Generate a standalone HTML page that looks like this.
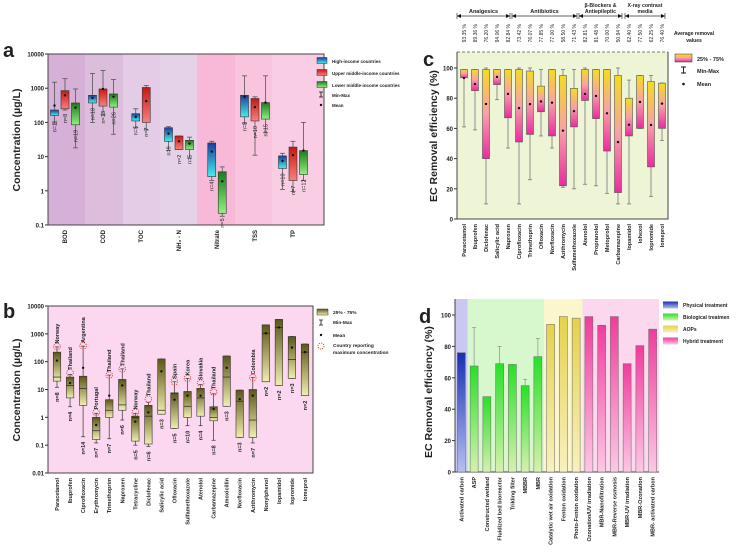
<!DOCTYPE html>
<html><head><meta charset="utf-8"><style>
html,body{margin:0;padding:0;background:#fff;width:743px;height:560px;overflow:hidden}
svg text{font-family:"Liberation Sans",sans-serif;fill:#222}
</style></head><body>
<svg id="fig" width="743" height="560" viewBox="0 0 743 560" xmlns="http://www.w3.org/2000/svg">
<defs>
<linearGradient id="gBlue" x1="0" y1="0" x2="0" y2="1"><stop offset="0" stop-color="#1c3c9c"/><stop offset="1" stop-color="#40f0f0"/></linearGradient>
<linearGradient id="gRed" x1="0" y1="0" x2="0" y2="1"><stop offset="0" stop-color="#c81810"/><stop offset="1" stop-color="#f88080"/></linearGradient>
<linearGradient id="gGreen" x1="0" y1="0" x2="0" y2="1"><stop offset="0" stop-color="#1c7a1c"/><stop offset="1" stop-color="#90f080"/></linearGradient>
<linearGradient id="gOlive" x1="0" y1="0" x2="0" y2="1"><stop offset="0" stop-color="#5c5618"/><stop offset="1" stop-color="#f2eeb0"/></linearGradient>
<linearGradient id="gYM" x1="0" y1="0" x2="0" y2="1"><stop offset="0" stop-color="#f4dc20"/><stop offset="0.5" stop-color="#f8a0a8"/><stop offset="1" stop-color="#ec2aa0"/></linearGradient>
<linearGradient id="gPhys" x1="0" y1="0" x2="0" y2="1"><stop offset="0" stop-color="#1830b0"/><stop offset="1" stop-color="#b8c0f0"/></linearGradient>
<linearGradient id="gBio" x1="0" y1="0" x2="0" y2="1"><stop offset="0" stop-color="#28e028"/><stop offset="1" stop-color="#d8f0b0"/></linearGradient>
<linearGradient id="gAop" x1="0" y1="0" x2="0" y2="1"><stop offset="0" stop-color="#e4d24c"/><stop offset="1" stop-color="#f8f0c0"/></linearGradient>
<linearGradient id="gHyb" x1="0" y1="0" x2="0" y2="1"><stop offset="0" stop-color="#f03c9c"/><stop offset="1" stop-color="#fcc8e4"/></linearGradient>
</defs>
</svg>
<script>
// ---------- Panel a data ----------
const aCats=["BOD","COD","TOC","NH₃ - N","Nitrate","TSS","TP"];
const aSeries=["High-income countries","Upper middle-income countries","Lower middle-income countries"];
// per category: series index present
const aSer=[[0,1,2],[0,1,2],[0,1],[0,1,2],[0,2],[0,1,2],[0,1,2]];
const aQ75=[[230,850,370],[620,950,680],[180,1050],[70,40,30],[25,3.6],[620,500,380],[10.5,19,15]];
const aQ25=[[160,250,85],[370,300,280],[110,100],[28,16,16],[2.6,0.22],[145,110,125],[4.5,2,3]];
const aMin=[[95,230,18],[100,170,45],[70,60],[15,16,9],[2,0.18],[95,11,50],[1.1,0.95,2]];
const aMax=[[1500,1900,950],[2700,3300,1800],[250,1200],[75,40,37],[28,5],[2300,560,2300],[12.5,28,100]];
const aMean=[[310,620,270],[520,950,560],[145,420],[47,28,24],[14,1.9],[560,280,380],[7.5,11,15]];
const aN=[["n=11","n=8","n=19"],["n=18","n=13","n=26"],["n=5","n=7"],["n=9","n=2","n=5"],["n=4","n=5"],["n=8","n=10","n=15"],["n=10","n=7","n=12"]];
const aTicks=[0.1,1,10,100,1000,10000];
// ---------- Panel b data ----------
const bCats=["Paracetamol","Ibuprofen","Ciprofloxacin","Erythromycin","Trimethoprim","Naproxen","Tetracycline","Diclofenac","Salicylic acid","Ofloxacin","Sulfamethoxazole","Atenolol","Carbamazepine","Amoxicillin","Norfloxacin","Azithromycin","Nonylphenol","Iopamidol","Iopromide","Iomeprol"];
const bQ75=[220,28,30,1.0,4.3,23,1.1,2.7,125,7.5,8.5,11,2.4,160,9.5,10,2100,3300,800,430];
const bQ25=[20,5,2.7,0.16,1.0,1.8,0.14,0.11,1.3,0.4,1.0,1.1,0.75,2.5,0.19,0.19,19,14,25,6];
const bMed=[28,14,11,0.33,1.8,2.8,1.0,1.1,1.8,7.5,2.5,5,1.0,28,3.8,0.8,1050,1700,120,220];
const bMin=[12,2.4,0.2,0.12,0.17,0.8,0.1,0.09,1.3,0.4,0.5,0.5,0.15,2.5,0.19,0.12,19,14,25,6];
const bMax=[340,35,360,1.4,33,55,1.4,3.5,125,19,25,15,7,160,9.5,27,2100,3300,800,430];
const bMean=[110,17,60,0.53,6,14,0.7,1.5,45,4.3,6,6,2,60,4.5,6,1050,1700,320,220];
const bN=["n=8","n=4","n=14","n=7","n=7","n=6","n=5","n=6","n=3","n=5","n=10","n=4","n=8","n=3","n=3","n=7","n=2","n=2","n=3","n=2"];
const bCountry=["Norway","Thailand","Argentina","Portugal","Thailand","Thailand","Norway","Thailand","","Spain","Korea","Slovakia","Thailand","","","Colombia","","","",""];
const bCircle=[350,40,370,1.5,33,55,1.5,4.5,0,19,25,17,8,0,0,27,0,0,0,0];
const bTicks=[0.01,0.1,1,10,100,1000,10000];
// ---------- Panel c data ----------
const cCats=["Paracetamol","Ibuprofen","Diclofenac","Salicylic acid","Naproxen","Ciprofloxacin","Trimethoprin","Ofloxacin","Norfloxacin","Azithromycin","Sulfamethoxazole","Atenolol","Propranolol","Metoprolol","Carbamazepine","Iopamidol","Iohexol","Iopromide","Iomeprol"];
const cQ75=[99,99,99,99,99,99,98,88,99,95,86.5,99,99,99,95,80,95,91,90];
const cQ25=[93.5,85,40,89,67,51,56,71,55,22,61,78.5,66.5,45,17.5,55,60,34.5,60];
const cMin=[61,59,10,79,47,10,26,55,47,21,20,23,22,17,10,10,60,15,52];
const cMax=[99,99,100,99,99,100,100,99,99,99,99,100,99,99,100,92,95,95,90];
const cMean=[93.35,89.36,76.2,94.06,82.84,73.42,76.07,77.85,77,58.5,71.43,82.81,81.48,70,50.94,62.4,77.5,62.25,76.4];
const cAvgLabels=["93.35 %","89.36 %","76.20 %","94.06 %","82.84 %","73.42 %","76.07 %","77.85 %","77.00 %","58.50 %","71.43 %","82.81 %","81.48 %","70.00 %","50.94 %","62.40 %","77.50 %","62.25 %","76.40 %"];
const cTicks=[0,20,40,60,80,100];
// ---------- Panel d data ----------
const dCats=["Activated carbon","ASP","Constructed wetland","Fluidized bed bioreactor","Trikling filter","MBBR","MBR","Catalytic wet air oxidation","Fenton oxidation","Photo-Fenton oxidation","Ozonation/UV irradiation","MBR-Nanofiltration","MBR-Reverse osmosis","MBR-UV irradiation","MBR-Ozonation","MBR- activated carbon"];
const dVals=[76,67.5,48,69,68.5,55,73.5,94,99,98,99,93.5,99,69,80.5,91];
const dErr=[0,92,0,80,0,59,85,0,0,0,0,0,0,0,0,0];
const dGroup=[0,1,1,1,1,1,1,2,2,2,3,3,3,3,3,3];
const dTicks=[0,20,40,60,80,100];

const svg=document.getElementById('fig');
const NS="http://www.w3.org/2000/svg";
function mk(tag,attrs,parent){const e=document.createElementNS(NS,tag);for(const k in attrs)e.setAttribute(k,attrs[k]);(parent||svg).appendChild(e);return e;}
function txt(s,attrs,parent){const e=mk('text',attrs,parent);e.textContent=s;return e;}
function g(name){const e=mk('g',{});return e;}

// ====== PANEL A ======
(function(){
const P=g('panel-a');
const L=48,R=324,T=54,B=225;
const y=v=>B-(Math.log10(v)+1)/5*(B-T);
const cx=i=>65+i*38;
const bandCols=["#d6b0d6","#dcbedc","#e4cce6","#e6d2e8","#f8b8d8","#f8c4de","#f9cee4"];
const edges=[L,85,123,160,197,235,272,R];
bandCols.forEach((c,i)=>{const r=mk('rect',{x:edges[i],y:T,width:edges[i+1]-edges[i],height:B-T,fill:c},P);
});
mk('rect',{x:L,y:T,width:R-L,height:B-T,fill:'none',stroke:'#444','stroke-width':1},P);
aTicks.forEach(t=>{mk('line',{x1:L-3,x2:L,y1:y(t),y2:y(t),stroke:'#333'},P);
const e=txt(String(t),{x:L-4,y:y(t)+2.5,'font-size':6,'font-weight':'bold','text-anchor':'end'},P);
});
const grads=['url(#gBlue)','url(#gRed)','url(#gGreen)'];
aCats.forEach((c,i)=>{
 const ser=aSer[i];const ns=ser.length;
 ser.forEach((s,j)=>{
  const x=cx(i)+(j-(ns-1)/2)*10.5;const w=8;
  mk('line',{x1:x,x2:x,y1:y(aMax[i][j]),y2:y(aMin[i][j]),stroke:'#555','stroke-width':0.8},P);
  mk('line',{x1:x-2.5,x2:x+2.5,y1:y(aMax[i][j]),y2:y(aMax[i][j]),stroke:'#555','stroke-width':0.8},P);
  mk('line',{x1:x-2.5,x2:x+2.5,y1:y(aMin[i][j]),y2:y(aMin[i][j]),stroke:'#555','stroke-width':0.8},P);
  const b=mk('rect',{x:x-w/2,y:y(aQ75[i][j]),width:w,height:y(aQ25[i][j])-y(aQ75[i][j]),fill:grads[s],stroke:'#333','stroke-width':0.6},P);
  
  mk('circle',{cx:x,cy:y(aMean[i][j]),r:1.2,fill:'#111'},P);
  const ly=y(aQ25[i][j])+3;
  txt(aN[i][j],{x:x,y:ly,'font-size':5.5,'text-anchor':'end',transform:`rotate(-90 ${x+2} ${ly})`},P);
 });
 const lx=cx(i)+2,ly=B+5;
 const e=txt(c,{x:lx,y:ly,'font-size':6,'font-weight':'bold','text-anchor':'end',transform:`rotate(-90 ${lx} ${ly})`},P);
 
});
const yt=txt('Concentration (µg/L)',{x:20,y:140,'font-size':10.5,'font-weight':'bold','text-anchor':'middle',transform:'rotate(-90 20 140)'},P);

const pl=txt('a',{x:3,y:57,'font-size':20,'font-weight':'bold'},P);

aSeries.forEach((s,k)=>{const ly=61+k*12;
 mk('rect',{x:317,y:ly-3.5,width:10,height:6,fill:grads[k],stroke:'#333','stroke-width':0.5},P);
 const e=txt(s,{x:332,y:ly+2,'font-size':4.5,'font-weight':'bold'},P);
 });
mk('path',{d:'M319 92h4M321 92v5M319 97h4',stroke:'#111','stroke-width':0.8,fill:'none'},P);
txt('Min-Max',{x:332,y:97,'font-size':4.5,'font-weight':'bold'},P);
mk('circle',{cx:321,cy:105,r:1.2,fill:'#111'},P);
txt('Mean',{x:332,y:107,'font-size':4.5,'font-weight':'bold'},P);
})();

// ====== PANEL B ======
(function(){
const P=g('panel-b');
const L=48,R=313,T=306,B=473;
const y=v=>B-(Math.log10(v)+2)/6*(B-T);
const cx=i=>57+i*(248/19);
mk('rect',{x:L,y:T,width:R-L,height:B-T,fill:'#fbd8ef',stroke:'#444','stroke-width':1},P);
bTicks.forEach(t=>{mk('line',{x1:L-3,x2:L,y1:y(t),y2:y(t),stroke:'#333'},P);
const e=txt(String(t),{x:L-4,y:y(t)+2.5,'font-size':6,'font-weight':'bold','text-anchor':'end'},P);
});
bCats.forEach((c,i)=>{
 const x=cx(i),w=7.5;
 mk('line',{x1:x,x2:x,y1:y(bMax[i]),y2:y(bMin[i]),stroke:'#333','stroke-width':0.7},P);
 mk('line',{x1:x-2,x2:x+2,y1:y(bMax[i]),y2:y(bMax[i]),stroke:'#333','stroke-width':0.7},P);
 mk('line',{x1:x-2,x2:x+2,y1:y(bMin[i]),y2:y(bMin[i]),stroke:'#333','stroke-width':0.7},P);
 const b=mk('rect',{x:x-w/2,y:y(bQ75[i]),width:w,height:y(bQ25[i])-y(bQ75[i]),fill:'url(#gOlive)',stroke:'#333','stroke-width':0.6},P);
 
 mk('line',{x1:x-w/2,x2:x+w/2,y1:y(bMed[i]),y2:y(bMed[i]),stroke:'#222','stroke-width':0.7},P);
 mk('circle',{cx:x,cy:y(bMean[i]),r:1.2,fill:'#111'},P);
 const ly=Math.max(y(bQ25[i]),y(bMin[i]))+3;
 txt(bN[i],{x:x,y:ly,'font-size':5.5,'font-weight':'bold','text-anchor':'end',transform:`rotate(-90 ${x+2} ${ly})`},P);
 if(bCircle[i]>0){const cy=y(bCircle[i]);
  mk('circle',{cx:x,cy:cy,r:3.3,fill:'none',stroke:'#e03030','stroke-width':0.8,'stroke-dasharray':'1.3 1'},P);
  const ty=cy-5;
  txt(bCountry[i],{x:x,y:ty,'font-size':5.5,'font-weight':'bold','text-anchor':'start',transform:`rotate(-90 ${x+2} ${ty})`},P);}
 const lx=x+2,ly2=B+5;
 const e=txt(c,{x:lx,y:ly2,'font-size':5.5,'font-weight':'bold','text-anchor':'end',transform:`rotate(-90 ${lx} ${ly2})`},P);
 
});
const yt=txt('Concentration (µg/L)',{x:20,y:390,'font-size':10.5,'font-weight':'bold','text-anchor':'middle',transform:'rotate(-90 20 390)'},P);

const pl=txt('b',{x:3,y:318,'font-size':20,'font-weight':'bold'},P);

mk('rect',{x:317,y:309,width:11,height:6,fill:'url(#gOlive)',stroke:'#333','stroke-width':0.5},P);
txt('25% - 75%',{x:333,y:314,'font-size':4.8,'font-weight':'bold'},P);
mk('path',{d:'M319 320h4M321 320v5M319 325h4',stroke:'#111','stroke-width':0.8,fill:'none'},P);
txt('Min-Max',{x:333,y:324,'font-size':4.8,'font-weight':'bold'},P);
mk('circle',{cx:321,cy:335,r:1.2,fill:'#111'},P);
txt('Mean',{x:333,y:337,'font-size':4.8,'font-weight':'bold'},P);
mk('circle',{cx:321,cy:346,r:3,fill:'none',stroke:'#e03030','stroke-width':0.8,'stroke-dasharray':'1.3 1'},P);
txt('Country reporting',{x:333,y:347,'font-size':4.8,'font-weight':'bold'},P);
txt('maximum concentration',{x:333,y:354,'font-size':4.8,'font-weight':'bold'},P);
})();

// ====== PANEL C ======
(function(){
const P=g('panel-c');
const L=457,R=668,T=52,B=219;
const y=v=>B-v/100*151;
const cx=i=>464+i*11;
mk('rect',{x:L,y:T,width:R-L,height:B-T,fill:'#eef5d6'},P);
mk('line',{x1:L,x2:R,y1:T,y2:T,stroke:'#555','stroke-dasharray':'3 2','stroke-width':0.8},P);
mk('path',{d:`M${L} ${T}V${B}H${R}V${T}`,fill:'none',stroke:'#444','stroke-width':1},P);
cTicks.forEach(t=>{mk('line',{x1:L-3,x2:L,y1:y(t),y2:y(t),stroke:'#333'},P);
const e=txt(String(t),{x:L-4,y:y(t)+2.5,'font-size':6,'font-weight':'bold','text-anchor':'end'},P);
});
cCats.forEach((c,i)=>{
 const x=cx(i),w=7;
 mk('line',{x1:x,x2:x,y1:y(cMax[i]),y2:y(cMin[i]),stroke:'#777','stroke-width':0.8},P);
 mk('line',{x1:x-2,x2:x+2,y1:y(cMax[i]),y2:y(cMax[i]),stroke:'#777','stroke-width':0.8},P);
 mk('line',{x1:x-2,x2:x+2,y1:y(cMin[i]),y2:y(cMin[i]),stroke:'#777','stroke-width':0.8},P);
 const b=mk('rect',{x:x-w/2,y:y(cQ75[i]),width:w,height:y(cQ25[i])-y(cQ75[i]),fill:'url(#gYM)',stroke:'#555','stroke-width':0.6},P);
 
 mk('circle',{cx:x,cy:y(cMean[i]),r:1.2,fill:'#111'},P);
 const lx=x+2,ly=B+5;
 const e=txt(c,{x:lx,y:ly,'font-size':5.5,'font-weight':'bold','text-anchor':'end',transform:`rotate(-90 ${lx} ${ly})`},P);
 
 const ay=24;
 const a=txt(cAvgLabels[i],{x:x+2,y:ay,'font-size':5,'text-anchor':'end',transform:`rotate(-90 ${x+2} ${ay})`},P);
 
});
const groups=[["Analgesics",457,510],["Antibiotics",512,577],["β-Blockers &|Antiepileptic",579,622],["X-ray contrast|media",625,665]];
groups.forEach(gr=>{
 const [n,x1,x2]=gr;const ay=16;
 mk('line',{x1:x1,x2:x2,y1:ay,y2:ay,stroke:'#333','stroke-width':0.7},P);
 mk('line',{x1:x1,x2:x1,y1:ay-3,y2:ay+3,stroke:'#333','stroke-width':0.7},P);
 mk('line',{x1:x2,x2:x2,y1:ay-3,y2:ay+3,stroke:'#333','stroke-width':0.7},P);
 mk('path',{d:`M${x1} ${ay}l4 -2v4z M${x2} ${ay}l-4 -2v4z`,fill:'#111'},P);
 const parts=n.split('|');const mx=(x1+x2)/2;
 if(parts.length===1){const e=txt(n,{x:mx,y:13,'font-size':5.5,'font-weight':'bold','text-anchor':'middle'},P);}
 else{txt(parts[0],{x:mx,y:7,'font-size':5.2,'font-weight':'bold','text-anchor':'middle'},P);txt(parts[1],{x:mx,y:13,'font-size':5.2,'font-weight':'bold','text-anchor':'middle'},P);}
});
txt('Average removal',{x:694,y:35,'font-size':5,'font-weight':'bold','text-anchor':'middle'},P);
txt('values',{x:694,y:42,'font-size':5,'font-weight':'bold','text-anchor':'middle'},P);
const yt=txt('EC Removal efficiency (%)',{x:437,y:136,'font-size':10.5,'font-weight':'bold','text-anchor':'middle',transform:'rotate(-90 437 136)'},P);

const pl=txt('c',{x:423,y:66,'font-size':20,'font-weight':'bold'},P);

mk('rect',{x:675,y:54,width:17,height:8,fill:'url(#gYM)',stroke:'#333','stroke-width':0.5},P);
txt('25% - 75%',{x:697,y:61,'font-size':5.5,'font-weight':'bold'},P);
mk('path',{d:'M681 67h5M683.5 67v6M681 73h5',stroke:'#111','stroke-width':0.9,fill:'none'},P);
txt('Min-Max',{x:697,y:73,'font-size':5.5,'font-weight':'bold'},P);
mk('circle',{cx:683.5,cy:84,r:1.3,fill:'#111'},P);
txt('Mean',{x:697,y:86,'font-size':5.5,'font-weight':'bold'},P);
})();

// ====== PANEL D ======
(function(){
const P=g('panel-d');
const L=455,R=659,T=299,B=472;
const y=v=>B-v/100*157;
const sp=(R-L)/dCats.length;
const cx=i=>L+sp*(i+0.5);
const bands=["#c8c8f0","#d6f8cc","#fcf6cc","#fcd8ee"];
const fills=["url(#gPhys)","url(#gBio)","url(#gAop)","url(#gHyb)"];
let start=0;
for(let i=1;i<=dGroup.length;i++){if(i===dGroup.length||dGroup[i]!==dGroup[start]){
 const r=mk('rect',{x:L+sp*start,y:T,width:sp*(i-start),height:B-T,fill:bands[dGroup[start]]},P);
 start=i;}}
mk('path',{d:`M${L} ${T}V${B}H${R}`,fill:'none',stroke:'#444','stroke-width':1},P);
dTicks.forEach(t=>{mk('line',{x1:L-3,x2:L,y1:y(t),y2:y(t),stroke:'#333'},P);
const e=txt(String(t),{x:L-4,y:y(t)+2.5,'font-size':6,'font-weight':'bold','text-anchor':'end'},P);
});
dCats.forEach((c,i)=>{
 const x=cx(i),w=8;
 if(dErr[i]>0){mk('line',{x1:x,x2:x,y1:y(dErr[i]),y2:y(dVals[i]),stroke:'#999','stroke-width':0.8},P);
  mk('line',{x1:x-2,x2:x+2,y1:y(dErr[i]),y2:y(dErr[i]),stroke:'#999','stroke-width':0.8},P);}
 const b=mk('rect',{x:x-w/2,y:y(dVals[i]),width:w,height:B-y(dVals[i]),fill:fills[dGroup[i]],stroke:'#666','stroke-width':0.5},P);
 
 const lx=x+2,ly=B+5;
 const e=txt(c,{x:lx,y:ly,'font-size':5.5,'font-weight':'bold','text-anchor':'end',transform:`rotate(-90 ${lx} ${ly})`},P);
 
});
const yt=txt('EC Removal efficiency (%)',{x:432,y:392,'font-size':10.5,'font-weight':'bold','text-anchor':'middle',transform:'rotate(-90 432 392)'},P);

const pl=txt('d',{x:419,y:323,'font-size':20,'font-weight':'bold'},P);

const leg=["Physical treatment","Biological treatmen","AOPs","Hybrid treatment"];
leg.forEach((s,k)=>{const ly=305+k*12;
 mk('rect',{x:663,y:ly-3.5,width:15,height:7,fill:fills[k]},P);
 const e=txt(s,{x:683,y:ly+2,'font-size':5,'font-weight':'bold'},P);
 });
})();
</script>
</body></html>
